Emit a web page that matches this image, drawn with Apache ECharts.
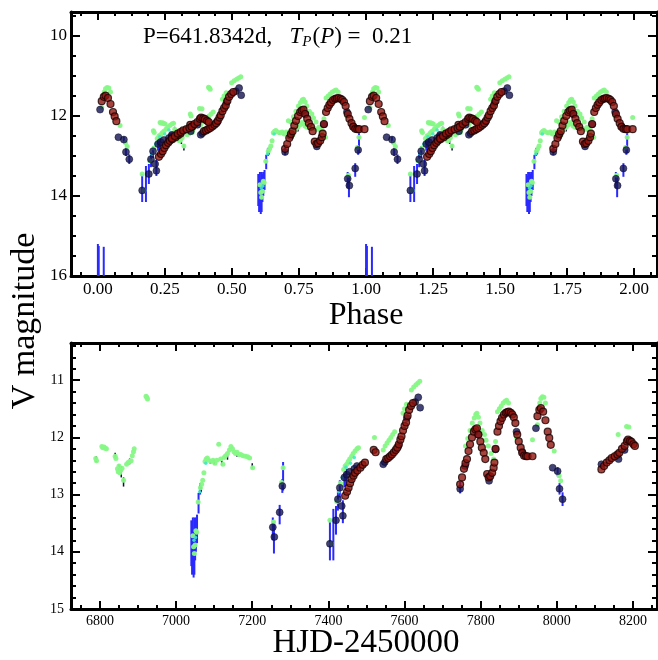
<!DOCTYPE html>
<html><head><meta charset="utf-8">
<script src="https://cdn.jsdelivr.net/npm/echarts@6/dist/echarts.min.js"></script>
<style>html,body{margin:0;padding:0;background:#fff}#c{width:658px;height:660px}</style>
</head><body><div id="c"></div>
<script>
// ---- constants of the ephemeris ----
const PERIOD = 641.8342;
const T0 = 6656;

// ---- tick labels ----
const phaseTicks = [0, 0.25, 0.5, 0.75, 1, 1.25, 1.5, 1.75, 2];
const phaseMagTicks = [10, 12, 14, 16];
const hjdTicks = [6800, 7000, 7200, 7400, 7600, 7800, 8000, 8200];
const hjdMagTicks = [11, 12, 13, 14, 15];

// ---- photometry: [HJD-2450000, V] ----
const greenPts = [
 [6789,12.37],[6791,12.41],[6805,12.16],[6808,12.18],[6811,12.17],[6814,12.19],[6817,12.2],
 [6840,12.33],[6842,12.37],[6846,12.55],[6848,12.6],[6850,12.5],[6852,12.62],[6855,12.57],[6858,12.54],[6862,12.75],
 [6870,12.47],[6874,12.44],[6878,12.42],[6882,12.41],[6885,12.32],[6888,12.25],[6890,12.2],
 [6921,11.28],[6923,11.3],[6925,11.33],
 [7044,13.72],[7046,13.91],[7048,14.03],[7050,13.88],[7052,13.63],[7054,13.66],[7058,13.13],
 [7064,12.88],[7067,12.82],[7070,12.75],[7073,12.62],[7076,12.42],[7079,12.38],[7082,12.36],[7086,12.4],
 [7092,12.42],[7097,12.4],[7102,12.45],[7107,12.4],[7112,12.12],[7117,12.38],[7123,12.47],[7126,12.35],
 [7130,12.32],[7135,12.28],[7140,12.22],[7144,12.16],[7148,12.2],[7152,12.25],[7156,12.28],[7160,12.26],
 [7165,12.3],[7170,12.3],[7176,12.32],[7182,12.33],[7188,12.34],[7193,12.36],[7201,12.53],
 [7256,13.48],[7277,12.79],[7281,12.53],
 [7404,13.45],[7408,13.86],[7422,13.12],[7432,12.8],[7440,12.56],[7444,12.5],[7448,12.47],[7452,12.42],
 [7456,12.38],[7461,12.33],[7465,12.28],[7470,12.24],[7475,12.2],[7479,12.18],
 [7521,12.0],[7544,12.22],[7549,12.15],[7554,12.1],[7559,12.05],[7564,12.0],[7569,11.95],[7574,11.9],
 [7596,11.58],[7600,11.5],[7605,11.42],[7618,11.17],[7624,11.12],[7630,11.08],[7635,11.05],[7640,11.02],
 [7760,12.15],[7766,12.02],[7772,11.88],[7778,11.75],[7783,11.66],[7787,11.6],[7790,11.58],[7794,11.65],
 [7798,11.75],[7804,11.88],[7810,11.95],[7814,12.05],[7820,12.15],[7827,12.28],[7834,12.38],[7839,12.07],
 [7844,11.55],[7849,11.5],[7854,11.45],[7859,11.4],[7864,11.37],[7868,11.35],[7873,11.4],[7894,12.0],[7936,12.04],
 [7949,11.78],[7955,11.4],[7958,11.32],[7962,11.29],[7966,11.3],[7970,11.4],[7993,12.24],[8006,12.67],[8010,12.76],
 [8161,11.95],[8183,11.81],[8189,11.82]
];
const cyanPts = [
 [7047,13.8],[7051,13.75],[7062,12.95],[7078,12.45],[7427,12.95],[7436,12.7],[7446,12.52],[7458,12.45],[7468,12.35]
];
const redPts = [
 [7444,13.02],[7449,12.95],[7453,12.88],[7457,12.8],[7461,12.73],[7466,12.67],[7470,12.62],[7476,12.58],
 [7484,12.53],[7490,12.48],[7496,12.44],[7519,12.22],[7524,12.26],
 [7552,12.38],[7557,12.36],[7562,12.33],[7567,12.3],[7572,12.26],[7577,12.22],[7581,12.18],[7585,12.12],
 [7589,12.04],[7592,11.98],[7596,11.88],[7600,11.8],[7604,11.74],[7608,11.62],[7612,11.52],[7617,11.45],[7622,11.4],
 [7746,12.82],[7751,12.7],[7756,12.55],[7760,12.45],[7764,12.38],[7768,12.24],[7772,12.12],[7777,12.0],
 [7782,11.9],[7786,11.86],[7790,11.84],[7794,11.95],[7799,12.07],[7803,12.18],[7808,12.27],[7812,12.38],
 [7817,12.64],[7821,12.7],[7825,12.68],[7830,12.62],[7834,12.53],[7836,12.44],[7839,12.2],[7844,11.9],
 [7848,11.8],[7852,11.72],[7856,11.66],[7861,11.6],[7866,11.57],[7870,11.56],[7874,11.55],[7879,11.57],
 [7883,11.6],[7887,11.65],[7891,11.75],[7896,11.95],[7900,12.07],[7905,12.18],[7909,12.27],[7914,12.32],
 [7919,12.33],[7923,12.33],[7936,12.33],
 [7949,11.63],[7954,11.52],[7958,11.49],[7964,11.55],[7970,11.7],[7976,11.9],[7980,12.01],[7984,12.13],
 [8117,12.56],[8124,12.5],[8131,12.44],[8138,12.4],[8144,12.36],[8152,12.33],[8159,12.3],[8164,12.27],
 [8171,12.2],[8178,12.15],[8184,12.07],[8187,12.04],[8192,12.06],[8196,12.08],[8201,12.12],[8205,12.15]
];
const navyPts = [
 [7254,13.57],[7258,13.74],[7272,13.31],[7279,12.85],
 [7404,13.86],[7420,13.45],[7425,13.08],[7430,12.88],[7435,13.2],[7438,13.37],[7442,12.7],[7448,12.65],
 [7456,12.6],[7468,12.55],[7475,12.5],
 [7544,12.47],[7548,12.43],[7584,12.15],[7606,11.66],[7628,11.38],[7636,11.3],[7641,11.48],
 [7746,12.9],[7759,12.5],[7794,11.95],[7822,12.76],[7839,12.21],[7894,11.9],[7909,12.25],
 [7945,11.84],[7989,12.53],[8002,12.59],[8007,12.9],[8015,13.08],
 [8117,12.47],[8162,12.38],[8178,12.22]
];
// blue error bars: [HJD, V, error]
const blueBars = [
 [7040,13.85,0.4],[7042,13.95,0.45],[7044,13.75,0.35],[7046,14.05,0.4],[7048,13.9,0.5],[7050,13.8,0.35],
 [7052,13.7,0.3],[7055,13.6,0.25],[7059,13.15,0.18],[7063,12.9,0.1],
 [7254,13.6,0.2],[7257,13.75,0.28],[7272,13.35,0.17],[7279,12.85,0.12],[7281,12.68,0.25],
 [7298,16.6,1.4],[7300,16.6,1.35],[7312,16.6,1.33],
 [7404,13.8,0.35],[7413,13.7,0.45],[7420,13.45,0.25],[7425,13.1,0.18],[7430,12.9,0.15],[7438,13.3,0.2],
 [7442,12.75,0.12],[7446,12.7,0.15],
 [7746,12.88,0.1],[8002,12.6,0.08],[8007,12.9,0.1],[8015,13.08,0.12]
];
// small dark error ticks: [HJD, V, error]
const darkBars = [
 [6790,12.38,0.05],[6840,12.32,0.05],[6850,12.55,0.08],[6856,12.6,0.1],[6862,12.78,0.08],[6878,12.42,0.05],
 [7066,12.9,0.06],[7090,12.42,0.04],[7100,12.43,0.04],[7120,12.45,0.04],[7135,12.35,0.04],[7160,12.3,0.04],[7200,12.5,0.05]
];

// ---- helpers ----
function phaseOf(t) { let p = ((t - T0) / PERIOD) % 1; if (p < 0) p += 1; return p; }
function fold(arr) {
  const out = [];
  arr.forEach(d => { const p = phaseOf(d[0]); const r1 = d.slice(); r1[0] = p; const r2 = d.slice(); r2[0] = p + 1; out.push(r1, r2); });
  return out;
}
function range(a, b, s) { const o = []; for (let v = a; v <= b + 1e-9; v += s) o.push(Math.round(v * 10000) / 10000); return o; }

const SERIF = "'Liberation Serif','Times New Roman',serif";
const phaseMinor = range(-0.0625, 2.0625, 0.0625);
const magMinorTop = range(9.5, 15.5, 0.5);
const hjdMinor = range(6750, 8250, 50);
const magMinorBot = range(10.4, 14.8, 0.2);

function xAx(grid, pos, min, max, ticks, len, labels, fs, lineShow) {
  return {
    type: 'value', gridIndex: grid, position: pos, min: min, max: max,
    axisLine: { show: lineShow, onZero: false, lineStyle: { color: '#000', width: 3 } },
    axisTick: { show: true, inside: true, length: len, customValues: ticks, lineStyle: { color: '#000', width: 2 } },
    axisLabel: labels ? { show: true, customValues: labels, margin: 5, color: '#000', fontFamily: SERIF, fontSize: fs,
      formatter: v => (grid === 0 ? v.toFixed(2) : String(v)) } : { show: false },
    splitLine: { show: false }, minorTick: { show: false }
  };
}
function yAx(grid, pos, min, max, ticks, len, labels, fs, lineShow, margin) {
  return {
    type: 'value', gridIndex: grid, position: pos, min: min, max: max, inverse: true,
    axisLine: { show: lineShow, onZero: false, lineStyle: { color: '#000', width: 3 } },
    axisTick: { show: true, inside: true, length: len, customValues: ticks, lineStyle: { color: '#000', width: 2 } },
    axisLabel: labels ? { show: true, customValues: labels, margin: margin, color: '#000', fontFamily: SERIF, fontSize: fs,
      formatter: v => String(v) } : { show: false },
    splitLine: { show: false }
  };
}

function barRender(color, width) {
  return function (params, api) {
    const x = api.value(0), m = api.value(1), e = api.value(2);
    const p1 = api.coord([x, m - e]), p2 = api.coord([x, m + e]);
    return { type: 'line', shape: { x1: p1[0], y1: p1[1], x2: p2[0], y2: p2[1] },
      style: { stroke: color, lineWidth: width } };
  };
}

function panelSeries(xi, yi, tf) {
  return [
    { type: 'custom', xAxisIndex: xi, yAxisIndex: yi, clip: true, renderItem: barRender('#2a2aff', 2),
      data: tf(blueBars), encode: { x: 0, y: 1 }, z: 1 },
    { type: 'custom', xAxisIndex: xi, yAxisIndex: yi, clip: true, renderItem: barRender('#10103a', 1.5),
      data: tf(darkBars), encode: { x: 0, y: 1 }, z: 2 },
    { type: 'scatter', xAxisIndex: xi, yAxisIndex: yi, data: tf(greenPts), symbolSize: 5, clip: true,
      itemStyle: { color: '#86f886', opacity: 0.95 }, z: 3 },
    { type: 'scatter', xAxisIndex: xi, yAxisIndex: yi, data: tf(cyanPts), symbolSize: 3.5, clip: true,
      itemStyle: { color: '#40e8c8', opacity: 0.9 }, z: 3 },
    { type: 'scatter', xAxisIndex: xi, yAxisIndex: yi, data: tf(navyPts), symbolSize: 7, clip: true,
      itemStyle: { color: '#141454', borderColor: '#06061e', borderWidth: 0.6 }, z: 4 },
    { type: 'scatter', xAxisIndex: xi, yAxisIndex: yi, data: tf(redPts), symbolSize: 7, clip: true,
      itemStyle: { color: '#8e140e', borderColor: '#1a0202', borderWidth: 1.2 }, z: 5 }
  ];
}

const chart = echarts.init(document.getElementById('c'), null, { renderer: 'canvas' });
chart.setOption({
  animation: false,
  backgroundColor: '#fff',
  grid: [
    { left: 71, top: 12, width: 586, height: 264 },
    { left: 71, top: 343, width: 586, height: 266 }
  ],
  xAxis: [
    xAx(0, 'bottom', -0.1, 2.085, phaseTicks, 8, phaseTicks, 17, true),
    xAx(0, 'bottom', -0.1, 2.085, phaseMinor, 4, null, 0, false),
    xAx(0, 'top', -0.1, 2.085, phaseTicks, 8, null, 0, true),
    xAx(0, 'top', -0.1, 2.085, phaseMinor, 4, null, 0, false),
    xAx(1, 'bottom', 6724, 8263, hjdTicks, 8, hjdTicks, 14, true),
    xAx(1, 'bottom', 6724, 8263, hjdMinor, 4, null, 0, false),
    xAx(1, 'top', 6724, 8263, hjdTicks, 8, null, 0, true),
    xAx(1, 'top', 6724, 8263, hjdMinor, 4, null, 0, false)
  ],
  yAxis: [
    yAx(0, 'left', 9.4, 16, phaseMagTicks, 9, phaseMagTicks, 17, true, 4),
    yAx(0, 'left', 9.4, 16, magMinorTop, 5, null, 0, false, 0),
    yAx(0, 'right', 9.4, 16, phaseMagTicks, 9, null, 0, true, 0),
    yAx(0, 'right', 9.4, 16, magMinorTop, 5, null, 0, false, 0),
    yAx(1, 'left', 10.35, 15, hjdMagTicks, 9, hjdMagTicks, 14, true, 7),
    yAx(1, 'left', 10.35, 15, magMinorBot, 5, null, 0, false, 0),
    yAx(1, 'right', 10.35, 15, hjdMagTicks, 9, null, 0, true, 0),
    yAx(1, 'right', 10.35, 15, magMinorBot, 5, null, 0, false, 0)
  ],
  graphic: [
    { type: 'text', x: 143, y: 37, style: {
        text: '{n|P=641.8342d,   }{i|T}{s|P}{n|(}{i|P}{n|) =  0.21}',
        textVerticalAlign: 'middle', textAlign: 'left', fill: '#000',
        rich: {
          n: { fontFamily: SERIF, fontSize: 23, fill: '#000' },
          i: { fontFamily: SERIF, fontSize: 23, fontStyle: 'italic', fill: '#000' },
          s: { fontFamily: SERIF, fontSize: 15, fontStyle: 'italic', fill: '#000', verticalAlign: 'bottom', padding: [10, 1, 0, 0] }
        } } },
    { type: 'text', x: 366, y: 316, style: { text: 'Phase', font: "32px 'Liberation Serif', serif", fill: '#000',
        textAlign: 'center', textVerticalAlign: 'middle' } },
    { type: 'text', x: 366, y: 643, style: { text: 'HJD-2450000', font: "33px 'Liberation Serif', serif", fill: '#000',
        textAlign: 'center', textVerticalAlign: 'middle' } },
    { type: 'text', x: 25, y: 321, rotation: Math.PI / 2, style: { text: 'V magnitude', font: "34px 'Liberation Serif', serif", fill: '#000',
        textAlign: 'center', textVerticalAlign: 'middle' } }
  ],
  series: [].concat(panelSeries(0, 0, fold), panelSeries(4, 4, a => a.map(d => d.slice())))
});
</script></body></html>
